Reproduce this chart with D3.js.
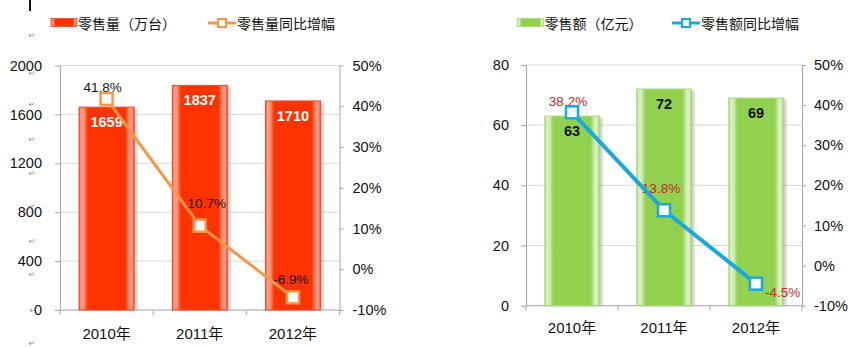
<!DOCTYPE html>
<html>
<head>
<meta charset="utf-8">
<script src="https://cdn.jsdelivr.net/npm/d3@7"></script>
<style>
  html, body { margin: 0; padding: 0; background: #fff; }
  svg { display: block; }
</style>
</head>
<body>
<svg id="chart" width="854" height="347"></svg>
<script>
// Retail data, 2010–2012
const years = ["2010年", "2011年", "2012年"];
const salesVolume = [1659, 1837, 1710];     // 万台
const volumeGrowth = [41.8, 10.7, -6.9];    // %
const salesValue = [63, 72, 69];            // 亿元
const valueGrowth = [38.2, 13.8, -4.5];     // %
const volumeTicks = [0, 400, 800, 1200, 1600, 2000];
const valueTicks = [0, 20, 40, 60, 80];
const pctTicks = [-10, 0, 10, 20, 30, 40, 50];

const svg = d3.select("#chart");
const NUM_FONT = "'Liberation Sans', Arial, sans-serif";
const CJK_FONT = "'Noto Sans CJK SC', 'Noto Sans', sans-serif";
const defs = svg.append("defs");

function barGradient(id, edge, light, main) {
  const g = defs.append("linearGradient").attr("id", id)
    .attr("x1", "0%").attr("x2", "100%").attr("y1", "0%").attr("y2", "0%");
  [[0, edge], [3, light], [8, light], [16, main], [84, main], [92, light], [97, light], [100, edge]]
    .forEach(([o, c]) => g.append("stop").attr("offset", o + "%").attr("stop-color", c));
}
barGradient("redBar", "#ef4a2c", "#ff9a80", "#ff3300");
barGradient("greenBar", "#9ed060", "#d6efbd", "#92d050");

const shadow = defs.append("filter").attr("id", "barShadow")
  .attr("x", "-20%").attr("y", "-5%").attr("width", "150%").attr("height", "110%");
shadow.append("feGaussianBlur").attr("stdDeviation", 1.6);

function drawChart(opt) {
  const g = svg.append("g");
  const x = d3.scaleBand().domain(years)
    .range([opt.left, opt.right]).paddingInner(0.41).paddingOuter(0.205);
  const y = d3.scaleLinear().domain(opt.yDomain).range([opt.bottom, opt.top]);
  const yp = d3.scaleLinear().domain([-10, 50]).range([opt.bottom, opt.top]);

  // horizontal gridlines
  g.append("g").selectAll("line").data(opt.yTicks.filter(d => d > 0)).join("line")
    .attr("x1", opt.left).attr("x2", opt.right)
    .attr("y1", d => y(d)).attr("y2", d => y(d))
    .attr("stroke", "#d9d9d9").attr("stroke-width", 1);

  // left value axis
  const ya = g.append("g").attr("transform", `translate(${opt.left},0)`)
    .call(d3.axisLeft(y).tickValues(opt.yTicks).tickFormat(d3.format("d"))
      .tickSize(5).tickPadding(opt.leftPad).tickSizeOuter(0));
  // right percentage axis
  const pa = g.append("g").attr("transform", `translate(${opt.right},0)`)
    .call(d3.axisRight(yp).tickValues(pctTicks).tickSize(4).tickPadding(opt.rightPad)
      .tickSizeOuter(0).tickFormat(d => d + "%"));
  [ya, pa].forEach(a => {
    a.select(".domain").attr("stroke", "#a6a6a6");
    a.selectAll(".tick line").attr("stroke", "#a6a6a6");
    a.selectAll("text").attr("font-family", NUM_FONT).attr("font-size", 14.5).attr("fill", "#111");
  });

  // category axis: ticks on band boundaries, labels on band centers
  const xa = g.append("g");
  xa.append("line").attr("x1", opt.left).attr("x2", opt.right)
    .attr("y1", opt.bottom).attr("y2", opt.bottom).attr("stroke", "#a6a6a6");
  const bounds = years.map(d => x(d) - x.step() * x.paddingInner() / 2).concat([opt.right]);
  xa.selectAll("line.tk").data(bounds).join("line").attr("class", "tk")
    .attr("x1", d => d).attr("x2", d => d)
    .attr("y1", opt.bottom).attr("y2", opt.bottom + 5).attr("stroke", "#a6a6a6");
  xa.selectAll("text").data(years).join("text")
    .attr("x", d => x(d) + x.bandwidth() / 2).attr("y", opt.bottom + opt.xLabelOff)
    .attr("text-anchor", "middle").attr("dominant-baseline", "central")
    .attr("font-family", `${NUM_FONT}, ${CJK_FONT}`).attr("font-size", 15).attr("fill", "#111")
    .text(d => d);

  // bars with soft right-side shadow
  g.append("g").selectAll("rect").data(opt.bars).join("rect")
    .attr("x", (d, i) => x(years[i]) + 3).attr("y", d => y(d) + 1)
    .attr("width", x.bandwidth()).attr("height", d => opt.bottom - y(d) - 1)
    .attr("fill", "#9a9a9a").attr("opacity", 0.55).attr("filter", "url(#barShadow)");
  g.append("g").selectAll("rect").data(opt.bars).join("rect")
    .attr("x", (d, i) => x(years[i])).attr("y", d => y(d))
    .attr("width", x.bandwidth()).attr("height", d => opt.bottom - y(d))
    .attr("fill", opt.barFill).attr("stroke", opt.barStroke).attr("stroke-width", 1);

  // bar value labels
  g.append("g").selectAll("text").data(opt.bars).join("text")
    .attr("x", (d, i) => x(years[i]) + x.bandwidth() / 2).attr("y", d => y(d) + 15)
    .attr("text-anchor", "middle").attr("dominant-baseline", "central")
    .attr("font-family", NUM_FONT).attr("font-size", 14.5).attr("font-weight", "bold")
    .attr("fill", opt.barLabelColor).text(d => d);

  // growth rate labels (drawn beneath the markers)
  const cx = i => x(years[i]) + x.bandwidth() / 2;
  g.append("g").selectAll("text").data(opt.growth).join("text")
    .attr("x", (d, i) => cx(i) + opt.nudge[i][0]).attr("y", (d, i) => yp(d) + opt.nudge[i][1])
    .attr("text-anchor", (d, i) => opt.nudge[i][2] || "middle").attr("dominant-baseline", "central")
    .attr("font-family", NUM_FONT).attr("font-size", 13.5).attr("fill", opt.pctLabelColor)
    .text(d => d.toFixed(1) + "%");

  // growth line with square markers
  const line = d3.line().x((d, i) => cx(i)).y(d => yp(d));
  g.append("path").datum(opt.growth).attr("d", line)
    .attr("fill", "none").attr("stroke", opt.lineColor).attr("stroke-width", opt.lineWidth)
    .attr("stroke-linejoin", "round");
  g.append("g").selectAll("rect").data(opt.growth).join("rect")
    .attr("x", (d, i) => cx(i) - 6).attr("y", d => yp(d) - 6)
    .attr("width", 12).attr("height", 12)
    .attr("fill", "#fff").attr("stroke", opt.lineColor).attr("stroke-width", 2.5);

  // legend
  const lg = g.append("g").attr("font-family", CJK_FONT).attr("font-size", 14).attr("fill", "#111");
  lg.append("rect").attr("x", opt.legendX).attr("y", 18.5).attr("width", 26).attr("height", 8)
    .attr("fill", opt.barFill).attr("stroke", opt.barStroke).attr("stroke-width", 0.8);
  lg.append("text").attr("x", opt.legendX + 27).attr("y", 23).attr("dominant-baseline", "central")
    .text(opt.barName);
  const lx = opt.legendX2;
  lg.append("line").attr("x1", lx).attr("x2", lx + 28).attr("y1", 23).attr("y2", 23)
    .attr("stroke", opt.lineColor).attr("stroke-width", 3);
  lg.append("rect").attr("x", lx + 10).attr("y", 19).attr("width", 8).attr("height", 8)
    .attr("fill", "#fff").attr("stroke", opt.lineColor).attr("stroke-width", 2);
  lg.append("text").attr("x", lx + 29).attr("y", 23).attr("dominant-baseline", "central")
    .text(opt.lineName);
}

drawChart({
  left: 60, right: 339.5, top: 65.5, bottom: 310,
  yDomain: [0, 2000], yTicks: volumeTicks, leftPad: 13, rightPad: 9, xLabelOff: 23,
  bars: salesVolume, growth: volumeGrowth,
  barFill: "url(#redBar)", barStroke: "#e8472a", barLabelColor: "#fff",
  lineColor: "#f79646", lineWidth: 3, pctLabelColor: "#111",
  nudge: [[-4, -11], [7, -22], [-2, -18]],
  legendX: 51, legendX2: 208,
  barName: "零售量（万台）", lineName: "零售量同比增幅"
});

drawChart({
  left: 526, right: 802, top: 65, bottom: 305.7,
  yDomain: [0, 80], yTicks: valueTicks, leftPad: 12, rightPad: 8, xLabelOff: 22,
  bars: salesValue, growth: valueGrowth,
  barFill: "url(#greenBar)", barStroke: "#a9d97a", barLabelColor: "#111",
  lineColor: "#1aa8e0", lineWidth: 4, pctLabelColor: "#c0282d",
  nudge: [[-4, -11], [-3, -22], [9, 9, "start"]],
  legendX: 517.5, legendX2: 672,
  barName: "零售额（亿元）", lineName: "零售额同比增幅"
});

// editor paragraph marks and cursor along the left margin
const marks = svg.append("g").attr("font-family", "'DejaVu Sans', sans-serif")
  .attr("font-size", 8).attr("fill", "#8c8c8c").attr("text-anchor", "middle")
  .attr("dominant-baseline", "central");
[[32, 35], [32, 73], [32, 104], [32, 139], [32, 173], [32, 206], [32, 241], [32, 274], [33, 310], [32, 343]]
  .forEach(([mx, my]) => marks.append("text").attr("x", mx).attr("y", my).text("↵"));
svg.append("line").attr("x1", 30).attr("x2", 30).attr("y1", 0).attr("y2", 11)
  .attr("stroke", "#111").attr("stroke-width", 2);
</script>
</body>
</html>
